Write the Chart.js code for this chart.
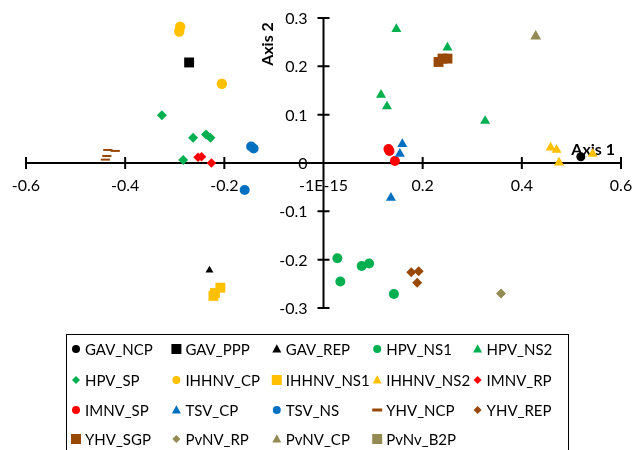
<!DOCTYPE html>
<html>
<head>
<meta charset="utf-8">
<script src="https://cdn.jsdelivr.net/npm/chart.js@4.4.1/dist/chart.umd.min.js"></script>
<style>
  html, body { margin: 0; padding: 0; background: #fff; }
  #wrap { width: 633px; height: 450px; position: relative; }
</style>
</head>
<body>
<div id="wrap"><canvas id="c" width="633" height="450"></canvas></div>
<script>
// ---- data (Axis 1, Axis 2) ----
const GAV_NCP    = [[0.519, 0.013]];
const GAV_PPP    = [[-0.271, 0.208]];
const GAV_REP    = [[-0.230, -0.222]];
const HPV_NS1    = [[0.028, -0.197], [0.034, -0.245], [0.077, -0.213], [0.092, -0.208], [0.142, -0.271]];
const HPV_NS2    = [[0.147, 0.277], [0.250, 0.239], [0.116, 0.141], [0.128, 0.117], [0.326, 0.087]];
const HPV_SP     = [[-0.326, 0.099], [-0.263, 0.052], [-0.237, 0.059], [-0.228, 0.052], [-0.283, 0.006]];
const IHHNV_CP   = [[-0.289, 0.282], [-0.291, 0.272], [-0.205, 0.164]];
const IHHNV_NS1  = [[-0.208, -0.258], [-0.222, -0.275], [-0.219, -0.269]];
const IHHNV_NS2  = [[0.458, 0.032], [0.470, 0.027], [0.475, 0.001], [0.543, 0.019]];
const IMNV_RP    = [[-0.253, 0.012], [-0.246, 0.013], [-0.226, 0.000]];
const IMNV_SP    = [[0.131, 0.029], [0.133, 0.025], [0.144, 0.004]];
const TSV_CP     = [[0.159, 0.039], [0.154, 0.019], [0.136, -0.072]];
const TSV_NS     = [[-0.146, 0.034], [-0.141, 0.030], [-0.159, -0.056]];
const YHV_NCP    = [[-0.435, 0.027], [-0.420, 0.025], [-0.437, 0.0145], [-0.440, 0.007]];
const YHV_REP    = [[0.177, -0.226], [0.192, -0.224], [0.189, -0.248]];
const YHV_SGP    = [[0.232, 0.209], [0.240, 0.216], [0.250, 0.216]];
const PvNV_RP    = [[0.358, -0.270]];
const PvNV_CP    = [[0.428, 0.262]];
const PvNv_B2P   = [];

const seriesNames = ['GAV_NCP','GAV_PPP','GAV_REP','HPV_NS1','HPV_NS2','HPV_SP','IHHNV_CP','IHHNV_NS1','IHHNV_NS2','IMNV_RP',
                     'IMNV_SP','TSV_CP','TSV_NS','YHV_NCP','YHV_REP','YHV_SGP','PvNV_RP','PvNV_CP','PvNv_B2P'];
const seriesData = [GAV_NCP, GAV_PPP, GAV_REP, HPV_NS1, HPV_NS2, HPV_SP, IHHNV_CP, IHHNV_NS1, IHHNV_NS2, IMNV_RP,
                    IMNV_SP, TSV_CP, TSV_NS, YHV_NCP, YHV_REP, YHV_SGP, PvNV_RP, PvNV_CP, PvNv_B2P];

const xTickValues = [-0.6, -0.4, -0.2, 0, 0.2, 0.4, 0.6];
const xTickLabels = ['-0.6', '-0.4', '-0.2', '-1E-15', '0.2', '0.4', '0.6'];
const yTickValues = [-0.3, -0.2, -0.1, 0, 0.1, 0.2, 0.3];
const yTickLabels = ['-0.3', '-0.2', '-0.1', '0', '0.1', '0.2', '0.3'];
const xTitle = 'Axis 1';
const yTitle = 'Axis 2';

// ---- styles ----
const C = { black:'#000000', green:'#00B050', yellow:'#FFC000', red:'#FF0000', blue:'#0070C0', brown:'#984807', khaki:'#948A54' };
const styles = [
  { c: C.black,  s: 'circle',   r: 4.5 },
  { c: C.black,  s: 'rect',     r: 7 },
  { c: C.black,  s: 'triangle', r: 4.6 },
  { c: C.green,  s: 'circle',   r: 5 },
  { c: C.green,  s: 'triangle', r: 5.8 },
  { c: C.green,  s: 'rectRot',  r: 5 },
  { c: C.yellow, s: 'circle',   r: 5.2 },
  { c: C.yellow, s: 'rect',     r: 7 },
  { c: C.yellow, s: 'triangle', r: 5.8 },
  { c: C.red,    s: 'rectRot',  r: 4.8 },
  { c: C.red,    s: 'circle',   r: 5 },
  { c: C.blue,   s: 'triangle', r: 5.8 },
  { c: C.blue,   s: 'circle',   r: 5 },
  { c: C.brown,  s: 'line',     r: 4.6, bw: 2 },
  { c: C.brown,  s: 'rectRot',  r: 5 },
  { c: C.brown,  s: 'rect',     r: 7 },
  { c: C.khaki,  s: 'rectRot',  r: 5 },
  { c: C.khaki,  s: 'triangle', r: 6.3 },
  { c: C.khaki,  s: 'rect',     r: 7 }
];

const FONT = 'Lato, "Liberation Sans", sans-serif';

const datasets = seriesNames.map((name, i) => ({
  label: name,
  data: seriesData[i].map(p => ({ x: p[0], y: p[1] })),
  pointStyle: styles[i].s,
  pointRadius: styles[i].r,
  pointHoverRadius: styles[i].r,
  backgroundColor: styles[i].c,
  borderColor: styles[i].c,
  pointBorderWidth: styles[i].bw || 0,
  borderWidth: styles[i].bw || 0,
  showLine: false,
  clip: false,
  order: seriesNames.length - i
}));

function drawMarker(ctx, style, x, y, r) {
  ctx.save();
  ctx.fillStyle = style.c;
  ctx.strokeStyle = style.c;
  ctx.beginPath();
  if (style.s === 'circle') {
    ctx.arc(x, y, r, 0, Math.PI * 2); ctx.fill();
  } else if (style.s === 'rect') {
    ctx.fillRect(x - r, y - r, 2 * r, 2 * r);
  } else if (style.s === 'triangle') {
    ctx.moveTo(x, y - r * 1.05); ctx.lineTo(x + r * 1.0, y + r * 0.75); ctx.lineTo(x - r * 1.0, y + r * 0.75);
    ctx.closePath(); ctx.fill();
  } else if (style.s === 'rectRot') {
    ctx.moveTo(x - r, y); ctx.lineTo(x, y - r); ctx.lineTo(x + r, y); ctx.lineTo(x, y + r);
    ctx.closePath(); ctx.fill();
  } else if (style.s === 'line') {
    ctx.lineWidth = 3;
    ctx.moveTo(x - r - 1, y); ctx.lineTo(x + r + 1, y); ctx.stroke();
  }
  ctx.restore();
}

// crossing tick marks, tick labels and axis titles, all placed through the chart's scales
const crossAxes = {
  id: 'crossAxes',
  beforeDatasetsDraw(chart) {
    const ctx = chart.ctx;
    const xs = chart.scales.x, ys = chart.scales.y;
    const x0 = xs.getPixelForValue(0), y0 = ys.getPixelForValue(0);
    ctx.save();
    ctx.strokeStyle = '#000';
    ctx.lineWidth = 2;
    ctx.beginPath();
    ctx.moveTo(xs.left, y0); ctx.lineTo(xs.right, y0);
    ctx.moveTo(x0, ys.top); ctx.lineTo(x0, ys.bottom);
    xTickValues.forEach(v => {
      const px = xs.getPixelForValue(v);
      ctx.moveTo(px, y0 - 6); ctx.lineTo(px, y0 + 6);
    });
    yTickValues.forEach(v => {
      const py = ys.getPixelForValue(v);
      ctx.moveTo(x0 - 6, py); ctx.lineTo(x0 + 6, py);
    });
    ctx.stroke();
    // tick labels
    ctx.fillStyle = '#000';
    ctx.font = '16px ' + FONT;
    ctx.textAlign = 'center';
    ctx.textBaseline = 'middle';
    xTickValues.forEach((v, i) => {
      ctx.fillText(xTickLabels[i], xs.getPixelForValue(v), y0 + 23);
    });
    ctx.textAlign = 'right';
    yTickValues.forEach((v, i) => {
      ctx.fillText(yTickLabels[i], x0 - 16, ys.getPixelForValue(v) + 1);
    });
    // axis titles
    ctx.font = 'bold 16px ' + FONT;
    ctx.textAlign = 'right';
    ctx.fillText(xTitle, xs.right - 6, y0 - 13);
    ctx.translate(x0 - 56, ys.top + 26);
    ctx.rotate(-Math.PI / 2);
    ctx.textAlign = 'center';
    ctx.fillText(yTitle, 0, 0);
    ctx.restore();
  }
};

const boxLegend = {
  id: 'boxLegend',
  afterDraw(chart) {
    const ctx = chart.ctx;
    ctx.save();
    ctx.strokeStyle = '#000';
    ctx.lineWidth = 1;
    ctx.strokeRect(66.5, 334.5, 502, 200);
    ctx.font = '15px ' + FONT;
    ctx.fillStyle = '#000';
    ctx.textAlign = 'left';
    ctx.textBaseline = 'middle';
    const rowsY = [349, 380, 410, 439];
    seriesNames.forEach((name, i) => {
      const col = i % 5, row = Math.floor(i / 5);
      const mx = 76 + col * 100.4, my = rowsY[row];
      const st = styles[i];
      let r = 4;
      if (st.s === 'rect') r = 5; else if (st.s === 'triangle') r = 4.5; else if (st.s === 'line') r = 4;
      drawMarker(ctx, st, mx, my, r);
      ctx.fillStyle = '#000';
      ctx.fillText(name, mx + 9, my + 1);
    });
    ctx.restore();
  }
};

new Chart(document.getElementById('c'), {
  type: 'scatter',
  data: { datasets },
  plugins: [crossAxes, boxLegend],
  options: {
    responsive: false,
    animation: false,
    events: [],
    layout: { padding: { left: 26, right: 12, top: 18, bottom: 142 } },
    plugins: { legend: { display: false }, tooltip: { enabled: false }, title: { display: false } },
    scales: {
      x: {
        type: 'linear',
        position: { y: 0 },
        min: -0.6, max: 0.6,
        afterBuildTicks: (scale) => { scale.ticks = xTickValues.map(v => ({ value: v })); },
        grid: { display: false, drawTicks: false },
        border: { display: false },
        ticks: { display: false }
      },
      y: {
        type: 'linear',
        position: { x: 0 },
        min: -0.3, max: 0.3,
        afterBuildTicks: (scale) => { scale.ticks = yTickValues.map(v => ({ value: v })); },
        grid: { display: false, drawTicks: false },
        border: { display: false },
        ticks: { display: false }
      }
    }
  }
});
</script>
</body>
</html>
